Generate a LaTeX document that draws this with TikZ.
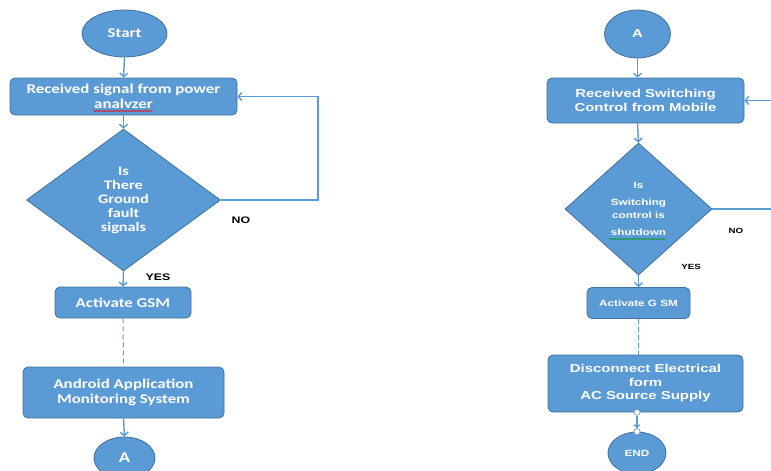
\documentclass[tikz,border=0pt]{standalone}
\usepackage{fontspec}
\setmainfont{Carlito}
\newfontfamily\calb[FakeStretch=1.25]{Carlito}
\newfontfamily\arib[FakeStretch=1.3]{Liberation Sans}
\usetikzlibrary{shapes.geometric,arrows.meta,decorations.pathmorphing}
\definecolor{fillb}{HTML}{5B9BD5}
\definecolor{edgeb}{HTML}{41719C}
\definecolor{lineb}{HTML}{5B9BD5}
\begin{document}
\begin{tikzpicture}[x=1pt,y=-1pt,
  shp/.style={draw=edgeb, line width=0.8pt, fill=fillb, text=white, align=center, inner sep=0pt},
  box/.style={shp, rounded corners=5pt},
  oval/.style={shp, ellipse},
  dia/.style={shp, diamond},
  lfont/.style={font=\calb\bfseries\fontsize{13.5}{15}\selectfont},
  rfont/.style={font=\arib\bfseries\fontsize{11.5}{13.5}\selectfont},
  rsmall/.style={font=\arib\bfseries\fontsize{9}{11}\selectfont},
  conn/.style={draw=lineb, line width=1.4pt, -{Straight Barb[length=3.5pt,width=8pt]}},
  dashln/.style={draw=lineb, line width=1pt, dash pattern=on 5pt off 3pt},
  lbl/.style={font=\arib\bfseries\fontsize{9.5}{11}\selectfont, text=black, inner sep=0pt},
  lbls/.style={font=\arib\bfseries\fontsize{7.5}{9}\selectfont, text=black, inner sep=0pt},
  dot/.style={circle, draw=edgeb!70, fill=white, line width=0.6pt, minimum size=6pt, inner sep=0pt}
]
\useasboundingbox (0,0) rectangle (771,471);

% ---------- left column ----------
\node[oval, lfont, minimum width=85pt, minimum height=47pt] (start) at (124.5,33.5) {Start};
\node[box, lfont, minimum width=227pt, minimum height=37pt] (b1) at (123.5,96.5)
  {Received signal from power\\analvzer};
\node[dia, minimum width=194pt, minimum height=142pt, font=\calb\bfseries\fontsize{13}{14}\selectfont] (d1) at (123.5,200)
  {Is\\There\\Ground\\fault\\signals};
\node[box, lfont, minimum width=136pt, minimum height=31pt] (g1) at (123,302.5) {Activate GSM};
\node[box, lfont, minimum width=201pt, minimum height=51pt] (m1) at (123.5,392.5)
  {Android Application\\Monitoring System};
\node[oval, font=\calb\bfseries\fontsize{15}{17}\selectfont, minimum width=61pt, minimum height=42pt] (a1) at (124.5,458) {A};

\draw[conn] (start.south) -- (b1.north);
\draw[conn] (b1.south) -- (d1.north);
\coordinate (loopL) at (318,96.5);
\draw[conn] (d1.east) -| (loopL) -- (b1.east);
\draw[conn] (d1.south) -- (g1.north);
\draw[dashln] (g1.south) -- (m1.north);
\draw[conn] (m1.south) -- (a1.north);
\node[lbl] (noL) at (241,220) {NO};
\node[lbl] (yesL) at (158,277) {YES};
\draw[red, line width=0.5pt, decorate, decoration={snake, amplitude=0.7pt, segment length=3pt}] (93,111) -- (153,111);

% ---------- right column ----------
\node[oval, rfont, minimum width=66pt, minimum height=48pt] (a2) at (637.5,34) {A};
\node[box, rfont, minimum width=197pt, minimum height=45pt] (b2) at (645.5,100.5)
  {Received Switching\\Control from Mobile};
\node[dia, font=\arib\bfseries\fontsize{9}{17}\selectfont, minimum width=147pt, minimum height=132pt] (d2) at (638.5,209)
  {Is\\Switching\\[-4pt]control is\\shutdown};
\node[box, rsmall, minimum width=103pt, minimum height=31pt] (g2) at (638.5,303) {Activate G SM};
\node[box, rfont, minimum width=195pt, minimum height=57pt] (m2) at (645.5,383.5)
  {Disconnect Electrical\\form\\AC Source Supply};
\node[oval, rsmall, minimum width=58pt, minimum height=42pt] (e2) at (637,453) {END};

\draw[conn] (a2.south) -- (a2.south |- b2.north);
\draw[conn] (a2.south |- b2.south) -- (d2.north);
\coordinate (loopR) at (790,100.5);
\draw[conn] (d2.east) -| (loopR) -- (b2.east);
\draw[conn] (d2.south) -- (g2.north);
\draw[dashln] (g2.south) -- (g2.south |- m2.north);
\node[dot] (p1) at (e2.north |- m2.south) {};
\node[dot] (p2) at (e2.north) {};
\draw[conn, line width=1.1pt, -{Straight Barb[length=3pt,width=6pt]}] (p1) -- (p2);
\node[dot] at (e2.north) {};
\node[lbls] (noR) at (736,231) {NO};
\node[lbls] (yesR) at (691,267) {YES};
\draw[green!60!black, line width=0.5pt, decorate, decoration={snake, amplitude=0.6pt, segment length=3pt}] (609,239) -- (666,239);
\end{tikzpicture}
\end{document}
